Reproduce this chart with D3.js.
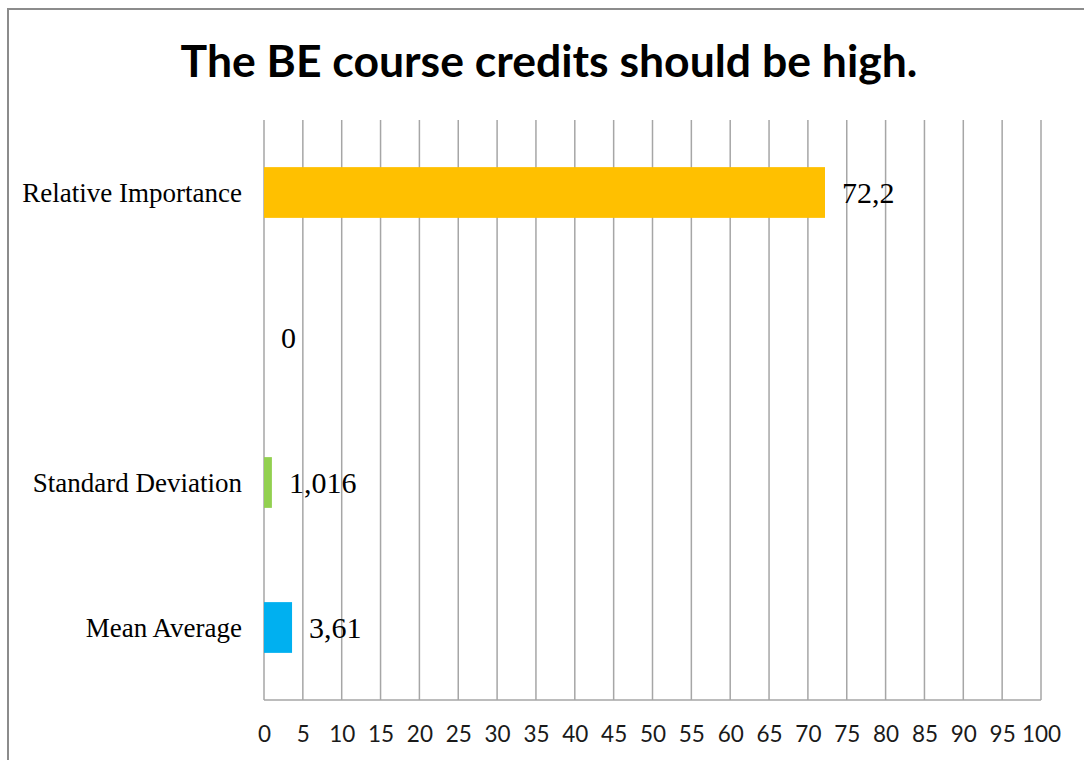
<!DOCTYPE html>
<html><head><meta charset="utf-8">
<script src="https://cdn.jsdelivr.net/npm/d3@7"></script>
<style>html,body{margin:0;padding:0;background:#fff;}svg{display:block;}</style>
</head><body>
<svg id="chart" width="1084" height="760"></svg>
<script>
const titleText = "The BE course credits should be high.";
const categories = ["Relative Importance", "", "Standard Deviation", "Mean Average"];
const values = [72.2, 0, 1.016, 3.61];
const valueLabels = ["72,2", "0", "1,016", "3,61"];
const colors = ["#FFC000", "none", "#92D050", "#00B0F0"];
const xTicks = [0,5,10,15,20,25,30,35,40,45,50,55,60,65,70,75,80,85,90,95,100];

const svg = d3.select("#chart");
const m = {left: 264, right: 1041, top: 120, bottom: 700};

svg.append("rect").attr("x", 8).attr("y", 9).attr("width", 1090).attr("height", 770)
  .attr("fill", "#fff").attr("stroke", "#8c8c8c").attr("stroke-width", 2);

// title
const t = svg.append("text").attr("x", 549).attr("y", 77).attr("text-anchor", "middle")
  .attr("font-family", "Lato, 'Open Sans', sans-serif").attr("font-weight", "bold")
  .attr("font-size", 44).attr("fill", "#000").text(titleText);
const tw = t.node().getComputedTextLength();
t.attr("font-size", 44 * 737 / tw);

const x = d3.scaleLinear().domain([0, 100]).range([m.left, m.right]);
const y = d3.scaleBand().domain(d3.range(categories.length)).range([m.top, m.bottom]).paddingInner(0.65).paddingOuter(0.325);

// gridlines
svg.append("g").selectAll("line").data(xTicks).join("line")
  .attr("x1", d => x(d)).attr("x2", d => x(d)).attr("y1", m.top).attr("y2", m.bottom)
  .attr("stroke", "#a6a6a6").attr("stroke-width", 1.5);
svg.append("line").attr("x1", m.left).attr("x2", m.right).attr("y1", m.bottom).attr("y2", m.bottom)
  .attr("stroke", "#a6a6a6").attr("stroke-width", 1.5);

// x tick labels
const xAxis = svg.append("g").attr("transform", `translate(0,${m.bottom})`)
  .call(d3.axisBottom(x).tickValues(xTicks).tickSize(0).tickPadding(0));
xAxis.select(".domain").remove();
xAxis.selectAll("text").attr("y", 42).attr("dy", null)
  .attr("font-family", "Lato, 'Open Sans', sans-serif").attr("font-size", 22.5).attr("fill", "#1a1a1a");

// y category labels
const yAxis = svg.append("g").attr("transform", `translate(${m.left},0)`)
  .call(d3.axisLeft(y).tickFormat(i => categories[i]).tickSize(0).tickPadding(22));
yAxis.select(".domain").remove();
yAxis.selectAll("text").attr("dy", "0.35em")
  .attr("font-family", "'Liberation Serif', 'Times New Roman', serif").attr("font-size", 27).attr("fill", "#000");

// bars
svg.append("g").selectAll("rect").data(values).join("rect")
  .attr("x", x(0)).attr("y", (d, i) => y(i)).attr("height", y.bandwidth())
  .attr("width", d => x(d) - x(0)).attr("fill", (d, i) => colors[i]);

// value labels
svg.append("g").selectAll("text").data(values).join("text")
  .attr("x", d => x(d) + 17).attr("y", (d, i) => y(i) + y.bandwidth() / 2).attr("dy", "0.35em")
  .attr("font-family", "'Liberation Serif', 'Times New Roman', serif").attr("font-size", 30).attr("fill", "#000")
  .text((d, i) => valueLabels[i]);
</script>
</body></html>
